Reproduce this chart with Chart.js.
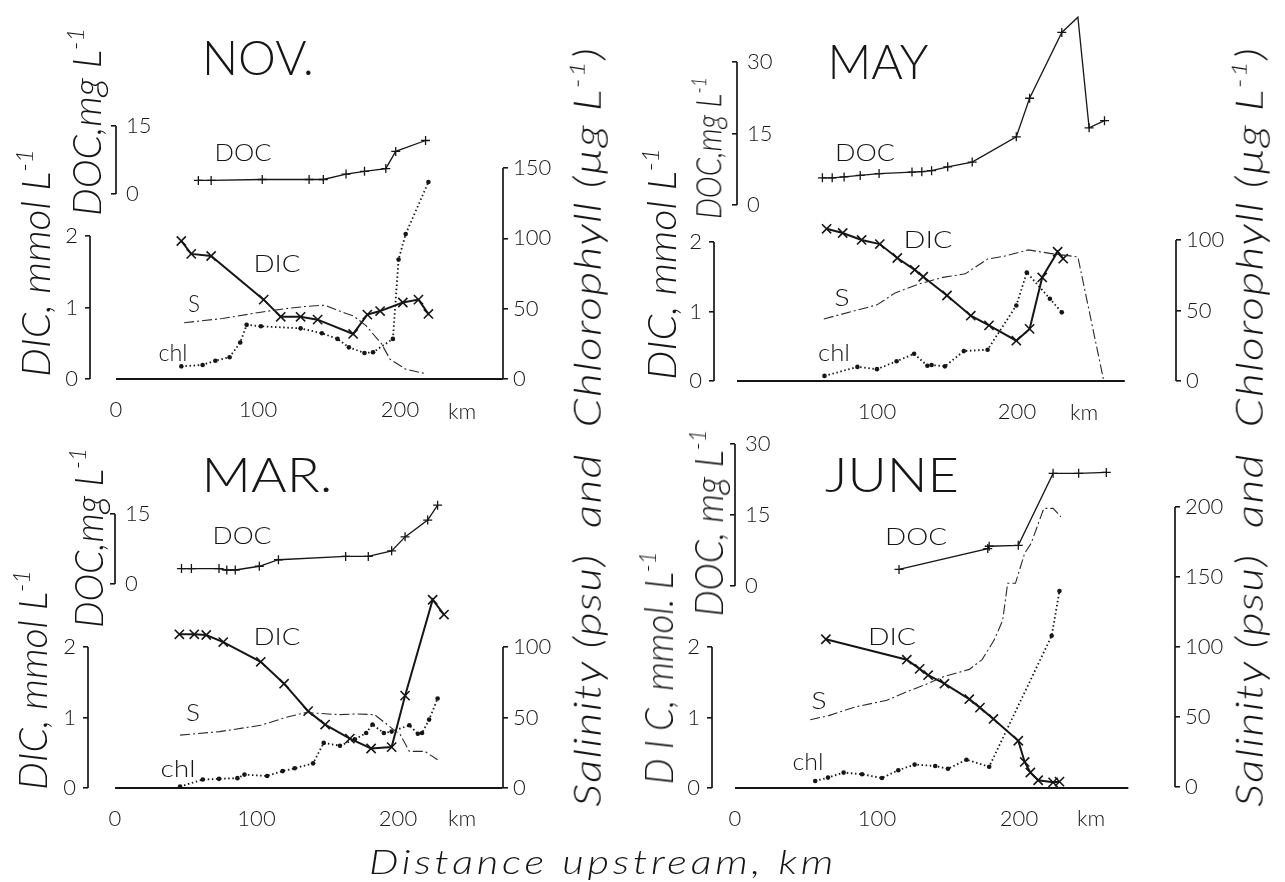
<!DOCTYPE html>
<html><head><meta charset="utf-8">
<script src="https://cdn.jsdelivr.net/npm/chart.js@4.4.1/dist/chart.umd.min.js"></script>
<style>
html,body{margin:0;padding:0;background:#fff;}
#wrap{position:relative;width:1285px;height:882px;overflow:hidden;background:#fff;}
canvas{position:absolute;}
.t{position:absolute;left:0;top:0;white-space:nowrap;color:#161616;font-family:Lato,"DejaVu Sans",sans-serif;font-weight:300;line-height:1.15;transform-origin:0 0;}
.t sup{font-size:0.6em;vertical-align:0.7em;line-height:0;}
</style></head><body><div id="wrap"></div>
<script>
// ---------------- DATA (km upstream, values) ----------------
// NOV
const novDocKm = [58, 67, 103, 136, 146, 162, 175, 190, 197, 218];
const novDoc   = [3.0, 3.0, 3.2, 3.2, 3.2, 4.4, 5.0, 5.6, 9.4, 11.8];
const novDicKm = [46, 53, 67, 104, 116, 130, 142, 167, 177, 186, 202, 213, 220];
const novDic   = [1.93, 1.75, 1.72, 1.11, 0.87, 0.87, 0.83, 0.63, 0.90, 0.95, 1.07, 1.11, 0.91];
const novChlKm = [46, 61, 70, 80, 87.5, 92, 102, 130, 145, 156, 164, 175, 181, 195, 199, 204, 220];
const novChl   = [9, 10, 13, 15.5, 26, 38.5, 37.5, 36, 32.5, 28.5, 22.5, 18.5, 19, 28.5, 85, 103, 140];
const novSKm   = [48, 75, 102, 119, 133, 147, 162, 167, 176, 187, 193, 204, 217];
const novS     = [40, 43, 47.5, 50, 51.5, 52.5, 46.5, 45, 38, 25, 14, 7, 4];
// MAY
const mayDocKm = [61, 68, 76.5, 88, 101.5, 125, 132, 139, 150.5, 168, 199.5, 209, 232, 243.5, 251.5, 262.5];
const mayDoc   = [5.7, 5.7, 5.9, 6.2, 6.6, 6.9, 7.0, 7.2, 8.0, 9.0, 14.3, 22.4, 36.2, 39.4, 16.2, 17.7];
const mayDicKm = [64, 75.5, 89, 102, 114.5, 127, 133, 150, 167, 180, 199.5, 209, 218, 229, 233];
const mayDic   = [2.19, 2.13, 2.03, 1.97, 1.77, 1.60, 1.50, 1.23, 0.94, 0.80, 0.58, 0.75, 1.49, 1.86, 1.76];
const mayChlKm = [62.5, 86, 100, 114, 126.5, 136, 139, 148.5, 162, 179, 199.5, 207, 223.5, 232];
const mayChl   = [3.6, 10, 8.4, 14, 19.3, 10.8, 11.3, 10.4, 21.2, 22.2, 53.5, 77, 58.3, 48.7];
const maySKm   = [62, 100, 113, 129, 147, 163, 179, 191, 208, 223.5, 243.5, 262];
const mayS     = [44, 54, 62.5, 68.5, 73.5, 76, 86.5, 88.5, 93, 90.5, 88, 0];
// MAR
const marDocKm = [47, 54, 73.5, 79, 85, 102, 115.5, 163, 179, 195.5, 205, 221, 228];
const marDoc   = [3.3, 3.3, 3.3, 3.0, 3.0, 3.8, 5.2, 5.9, 5.9, 7.1, 10.1, 13.7, 16.9];
const marDicKm = [45.5, 56, 64.5, 76.5, 103, 119.5, 136.5, 148.5, 166, 181, 195.5, 205, 224.5, 232.5];
const marDic   = [2.18, 2.18, 2.17, 2.07, 1.79, 1.48, 1.09, 0.90, 0.70, 0.56, 0.58, 1.31, 2.67, 2.46];
const marChlKm = [46, 62, 73.5, 86.5, 91.5, 107.5, 118.5, 127, 140, 147.5, 159, 169.5, 177.5, 182, 190, 195.5, 208, 214, 217, 222, 228];
const marChl   = [1, 6, 6.5, 7, 9.5, 8.5, 12, 14, 17.5, 32, 30, 34.5, 39, 45, 39, 40, 44.5, 38.5, 39, 48.5, 63.5];
const marSKm   = [46, 74, 103, 120.5, 135, 143.5, 158, 170, 183.5, 195.5, 201.5, 208, 219, 228];
const marS     = [37.5, 40, 44.5, 50, 53.5, 53, 52, 52.5, 52, 42.5, 38, 26, 26, 20];
// JUNE
const junDocKm = [115.5, 178, 179, 199.5, 224, 242, 261.5];
const junDoc   = [3.5, 7.9, 8.4, 8.6, 23.8, 23.8, 24];
const junDicKm = [64, 121, 130, 136, 147.5, 165, 172.5, 182, 199.5, 204, 208, 213.5, 224, 228.5];
const junDic   = [2.11, 1.82, 1.69, 1.60, 1.48, 1.26, 1.14, 0.98, 0.67, 0.37, 0.22, 0.11, 0.08, 0.09];
const junChlKm = [56.5, 65.5, 76.5, 89.5, 103.5, 115, 126.5, 141, 150, 163, 179, 223, 228.5];
const junChl   = [4.3, 6.7, 10.3, 9.1, 6.4, 12, 16, 15, 13, 19.5, 14.5, 108, 140];
const junSKm   = [53, 66, 84, 107, 118.5, 136, 147.5, 165, 174, 182.5, 188.5, 192, 197.5, 204, 208.5, 217.5, 224, 229.5];
const junS     = [48, 51, 57, 62, 67, 74, 79, 84, 91, 105, 119, 145.5, 145.5, 167, 174, 199, 199, 193];

// tick labels
const xTicksFull = [0, 100, 200];
const xTicksMay  = [100, 200];
const dicTicks   = [0, 1, 2];
const docTicks15 = [0, 15];
const docTicks30 = [0, 15, 30];
const novRightTicks = [0, 50, 100, 150];
const mayRightTicks = [0, 50, 100];
const marRightTicks = [0, 50, 100];
const junRightTicks = [0, 50, 100, 150, 200];

// ---------------- RENDERING ----------------
const INK = '#161616';
const FONT = 'Lato, "DejaVu Sans", sans-serif';
const wrap = document.getElementById('wrap');
Chart.defaults.font.family = FONT;
Chart.defaults.font.weight = '300';
Chart.defaults.color = INK;

function pts(xs, ys) { return xs.map((x, i) => ({ x: x, y: ys[i] })); }

function makePanel(p) {
  const [cx, cy, cw, ch] = p.box;
  const canvas = document.createElement('canvas');
  canvas.width = cw; canvas.height = ch;
  canvas.style.left = cx + 'px'; canvas.style.top = cy + 'px';
  canvas.style.width = cw + 'px'; canvas.style.height = ch + 'px';
  wrap.appendChild(canvas);

  const dicW = p.dicX - cx, docW = p.km0 - p.dicX, rightW = cx + cw - p.rightX, xH = cy + ch - p.base;
  const fixTicks = vals => s => { s.ticks = vals.map(v => ({ value: v })); };
  const tickFont = { size: 22, weight: '300', family: FONT };
  const yAxis = (pos, weight, width, ticks, extra) => Object.assign({
    type: 'linear', position: pos, weight: weight, min: -10, max: 400,
    afterBuildTicks: fixTicks(ticks),
    afterFit: s => { s.width = width; },
    grid: { display: true, drawOnChartArea: false, drawTicks: true, tickLength: 5, color: INK, lineWidth: 1.6 },
    border: { display: false },
    ticks: { padding: 7, color: INK, font: tickFont, autoSkip: false, callback: v => String(v) }
  }, extra || {});

  const plugin = {
    id: 'panel_' + p.name,
    afterLayout(chart) {
      const ca = chart.chartArea, a = p.anchors;
      const xs = chart.scales.x;
      const kx = (a.x[1][1] - a.x[0][1]) / (a.x[1][0] - a.x[0][0]);
      xs.min = a.x[0][0] + (ca.left + cx - a.x[0][1]) / kx;
      xs.max = a.x[0][0] + (ca.right + cx - a.x[0][1]) / kx;
      xs.configure();
      ['yDIC', 'yDOC', 'yR'].forEach(id => {
        const s = chart.scales[id];
        const [[v0, p0], [v1, p1]] = a[id];
        const k = (p0 - p1) / (v1 - v0);
        s.min = v0 + (p0 - (ca.bottom + cy)) / k;
        s.max = v0 + (p0 - (ca.top + cy)) / k;
        s.configure();
      });
    },
    afterDraw(chart) {
      const ctx = chart.ctx, xs = chart.scales.x, yb = chart.chartArea.bottom;
      ctx.save();
      ctx.strokeStyle = INK;
      ctx.lineWidth = 2;
      ctx.beginPath();
      ctx.moveTo(xs.getPixelForValue(p.xLine[0]), yb);
      ctx.lineTo(xs.getPixelForValue(p.xLine[1]), yb);
      ctx.stroke();
      ctx.lineWidth = 1.7;
      Object.keys(p.brackets).forEach(id => {
        const s = chart.scales[id], r = p.brackets[id];
        const xp = s.position === 'left' ? s.right : s.left;
        ctx.beginPath();
        ctx.moveTo(xp, s.getPixelForValue(r[0]));
        ctx.lineTo(xp, s.getPixelForValue(r[1]));
        ctx.stroke();
      });
      ctx.restore();
    }
  };

  const common = { borderColor: INK, fill: false, tension: 0, clip: false, pointBorderColor: INK, pointBackgroundColor: INK };
  new Chart(canvas, {
    type: 'line',
    data: {
      datasets: [
        Object.assign({ label: 'S', yAxisID: 'yR', data: pts(p.sKm, p.s), borderColor: '#2a2a2a', borderWidth: 1.1, borderDash: [10, 3, 2, 3], pointRadius: 0 }, { fill: false, tension: 0, clip: false }),
        Object.assign({ label: 'chl', yAxisID: 'yR', data: pts(p.chlKm, p.chl), borderWidth: 1.8, borderDash: [1.5, 2.6], pointStyle: 'circle', pointRadius: 2.3, pointBorderWidth: 0 }, common),
        Object.assign({ label: 'DOC', yAxisID: 'yDOC', data: pts(p.docKm, p.doc), borderWidth: 1.3, pointStyle: 'cross', pointRadius: 4.5, pointBorderWidth: 1.3 }, common),
        Object.assign({ label: 'DIC', yAxisID: 'yDIC', data: pts(p.dicKm, p.dic), borderWidth: 2, pointStyle: 'crossRot', pointRadius: 6.5, pointBorderWidth: 1.6 }, common)
      ]
    },
    options: {
      responsive: false, animation: false, events: [],
      layout: { padding: { top: 18, left: 0, right: 0, bottom: 0 } },
      plugins: { legend: { display: false }, tooltip: { enabled: false }, title: { display: false } },
      scales: {
        x: {
          type: 'linear', position: 'bottom', min: 0, max: 300,
          afterBuildTicks: fixTicks(p.xTicks),
          afterFit: s => { s.height = xH; },
          grid: { display: false },
          border: { display: false },
          ticks: { padding: 10, color: INK, font: tickFont, autoSkip: false, maxRotation: 0, callback: v => String(v) }
        },
        yDIC: yAxis('left', 1, dicW, dicTicks),
        yDOC: yAxis('left', 0, docW, p.docTicks, { ticks: { mirror: true, padding: 10, color: INK, font: tickFont, autoSkip: false, callback: v => String(v) } }),
        yR: yAxis('right', 0, rightW, p.rightTicks, { ticks: { padding: 5, color: INK, font: tickFont, autoSkip: false, callback: v => String(v) } })
      }
    },
    plugins: [plugin]
  });
}

makePanel({ name: 'nov', box: [0, 0, 640, 430], dicX: 90, km0: 116, rightX: 503, base: 379, xLine: [0, 272.5],
  anchors: { x: [[0, 116], [100, 258]], yDIC: [[0, 379], [2, 236]], yDOC: [[0, 194], [15, 126]], yR: [[0, 379], [150, 168]] },
  brackets: { yDIC: [0, 2], yDOC: [0, 15], yR: [0, 150] },
  xTicks: xTicksFull, docTicks: docTicks15, rightTicks: novRightTicks,
  docKm: novDocKm, doc: novDoc, dicKm: novDicKm, dic: novDic, chlKm: novChlKm, chl: novChl, sKm: novSKm, s: novS });

makePanel({ name: 'may', box: [640, 0, 645, 430], dicX: 714, km0: 737, rightX: 1176, base: 381, xLine: [0, 277],
  anchors: { x: [[0, 737], [100, 877]], yDIC: [[0, 381], [2, 242]], yDOC: [[0, 205], [30, 62]], yR: [[0, 381], [100, 240]] },
  brackets: { yDIC: [0, 2], yDOC: [0, 30], yR: [0, 100] },
  xTicks: xTicksMay, docTicks: docTicks30, rightTicks: mayRightTicks,
  docKm: mayDocKm, doc: mayDoc, dicKm: mayDicKm, dic: mayDic, chlKm: mayChlKm, chl: mayChl, sKm: maySKm, s: mayS });

makePanel({ name: 'mar', box: [0, 420, 640, 440], dicX: 88, km0: 115, rightX: 503, base: 788, xLine: [0, 274],
  anchors: { x: [[0, 115], [100, 256.5]], yDIC: [[0, 788], [2, 647]], yDOC: [[0, 584], [15, 514]], yR: [[0, 788], [100, 647]] },
  brackets: { yDIC: [0, 2], yDOC: [0, 15], yR: [0, 100] },
  xTicks: xTicksFull, docTicks: docTicks15, rightTicks: marRightTicks,
  docKm: marDocKm, doc: marDoc, dicKm: marDicKm, dic: marDic, chlKm: marChlKm, chl: marChl, sKm: marSKm, s: marS });

makePanel({ name: 'jun', box: [640, 420, 645, 440], dicX: 712, km0: 735, rightX: 1175, base: 788, xLine: [0, 277],
  anchors: { x: [[0, 735], [100, 877]], yDIC: [[0, 788], [2, 647]], yDOC: [[0, 586], [30, 444]], yR: [[0, 787], [200, 507]] },
  brackets: { yDIC: [0, 2], yDOC: [0, 30], yR: [0, 200] },
  xTicks: xTicksFull, docTicks: docTicks30, rightTicks: junRightTicks,
  docKm: junDocKm, doc: junDoc, dicKm: junDicKm, dic: junDic, chlKm: junChlKm, chl: junChl, sKm: junSKm, s: junS });

// ---------------- TEXT ----------------
function addText(html, x, y, o) {
  const el = document.createElement('div');
  el.className = 't';
  el.innerHTML = html;
  el.style.fontSize = o.size + 'px';
  if (o.weight) el.style.fontWeight = o.weight;
  if (o.italic) el.style.fontStyle = 'italic';
  if (o.ls) el.style.letterSpacing = o.ls + 'px';
  wrap.appendChild(el);
  let sx = 1;
  if (o.len) {
    const w = el.getBoundingClientRect().width;
    sx = o.len / w;
    if (o.clamp) sx = Math.max(0.8, Math.min(1.25, sx));
  }
  el.style.transform = 'translate(' + x + 'px,' + y + 'px) rotate(' + (o.rot || 0) + 'deg) scaleX(' + sx + ') translate(-50%,-50%)';
}
// titles
addText('NOV.', 258, 57, { size: 48, len: 112 });
addText('MAY', 878, 61, { size: 48, len: 101 });
addText('MAR.', 267, 474, { size: 48, len: 131 });
addText('JUNE', 892, 474, { size: 48, len: 134 });
// series labels
[['DOC', 243, 152, 57], ['DIC', 277, 263, 47], ['S', 194, 303, 12], ['chl', 173, 352, 29],
 ['DOC', 865, 152, 60], ['DIC', 928, 239, 50], ['S', 842, 297, 16], ['chl', 834, 352, 32],
 ['DOC', 242, 535, 59], ['DIC', 277, 636, 47], ['S', 193, 712, 14], ['chl', 178, 768, 35],
 ['DOC', 916, 536, 62], ['DIC', 892, 636, 48], ['S', 819, 700, 16], ['chl', 808, 761, 31]
].forEach(l => addText(l[0], l[1], l[2], { size: 23, len: l[3], clamp: true }));
// km
[[462, 411], [1084, 412], [462, 818], [1091, 818]].forEach(k => addText('km', k[0], k[1], { size: 22 }));
// left axis titles
const dicT = 'DIC, mmol L<sup>-1</sup>';
const docT = 'DOC,mg L<sup>-1</sup>';
addText(dicT, 35, 263, { size: 40, italic: true, rot: -90, len: 228 });
addText(docT, 86, 122, { size: 40, italic: true, rot: -90, len: 188 });
addText(dicT, 661, 264, { size: 40, italic: true, rot: -90, len: 232 });
addText(docT, 708, 148, { size: 36, italic: true, rot: -90, len: 142 });
addText(dicT, 32, 680, { size: 40, italic: true, rot: -90, len: 220 });
addText(docT, 88, 538, { size: 40, italic: true, rot: -90, len: 180 });
addText('D I C, mmol. L<sup>-1</sup>', 658, 668, { size: 40, italic: true, rot: -90, len: 233 });
addText('DOC, mg L<sup>-1</sup>', 708, 523, { size: 40, italic: true, rot: -90, len: 187 });
// shared right titles
const rightT = 'Salinity (psu) &nbsp;and &nbsp;Chlorophyll (µg L<sup>-1</sup>)';
addText(rightT, 587, 427, { size: 37, italic: true, rot: -90, len: 760, ls: 1 });
addText(rightT, 1249, 427, { size: 37, italic: true, rot: -90, len: 760, ls: 1 });
// x title
addText('Distance upstream, km', 603, 862, { size: 33, italic: true, len: 468, ls: 3 });
</script></body></html>
